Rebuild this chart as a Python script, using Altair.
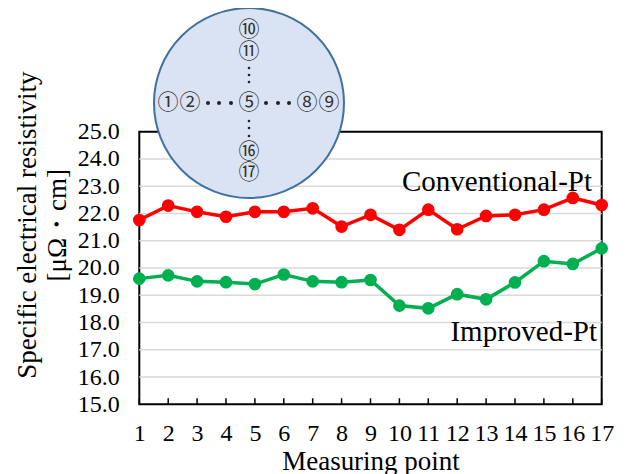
import altair as alt
import pandas as pd

# ---------------- data ----------------
points = list(range(1, 18))
conventional = [21.76, 22.29, 22.06, 21.88, 22.06, 22.06, 22.19, 21.52, 21.95,
                21.40, 22.14, 21.42, 21.91, 21.95, 22.14, 22.57, 22.31]
improved = [19.61, 19.73, 19.51, 19.48, 19.41, 19.76, 19.51, 19.48, 19.56,
            18.62, 18.52, 19.04, 18.85, 19.47, 20.25, 20.15, 20.72]
series_names = ["Conventional-Pt", "Improved-Pt"]
series_colors = ["#ff0000", "#00b050"]
y_ticks = [15.0, 16.0, 17.0, 18.0, 19.0, 20.0, 21.0, 22.0, 23.0, 24.0, 25.0]

# inset wafer map (measuring point layout, offsets in px from wafer centre, up = +)
inset_labels = ["①", "②", "⑤", "⑧", "⑨", "⑩", "⑪", "⑯", "⑰"]
inset_x = [-81, -59, 0, 58, 80, 0, 0, 0, 0]
inset_y = [0, 0, 0, 0, 0, 73, 51, -49, -70]
dots_h = [-41, -30, -18, 17, 29, 40]
dots_v = [35, 28, 21, -18, -25, -33]

SERIF = "Liberation Serif"
W, H = 462.4, 272.6
XMIN, XMAX, YMIN, YMAX = 1, 17, 15, 25
PX_X = W / (XMAX - XMIN)      # px per x unit
PX_Y = H / (YMAX - YMIN)      # px per y unit
WAFER_CX = XMIN + 109.7 / PX_X   # wafer centre in chart units
WAFER_CY = YMAX + 28.7 / PX_Y


def ix(offs):
    return [WAFER_CX + o / PX_X for o in offs]


def iy(offs):
    return [WAFER_CY + o / PX_Y for o in offs]


df = pd.DataFrame({
    "x": points * 2,
    "y": conventional + improved,
    "series": [series_names[0]] * len(points) + [series_names[1]] * len(points),
})

xscale = alt.Scale(domain=[XMIN, XMAX], nice=False, zero=False)
yscale = alt.Scale(domain=[YMIN, YMAX], nice=False, zero=False)

x_axis = alt.Axis(values=points, format="d", title="Measuring point", grid=False,
                  ticks=False, domain=False, labelFont=SERIF, labelFontSize=24,
                  labelColor="black", labelPadding=17, labelFlush=False, labelOverlap=False,
                  titleFont=SERIF, titleFontSize=27, titleFontWeight="normal",
                  titleColor="black", titlePadding=3)
y_axis = alt.Axis(values=y_ticks, format=".1f", grid=False, ticks=False, domain=False,
                  labelFont=SERIF, labelFontSize=24, labelColor="black", labelPadding=20,
                  labelOverlap=False,
                  title=["Specific electrical resistivity", "[μΩ・cm]"],
                  titleFont=SERIF, titleFontSize=27, titleFontWeight="normal",
                  titleColor="black", titleLineHeight=30, titleAngle=270,
                  titleX=-112, titleY=93, titleBaseline="middle", titleAlign="center")

X = alt.X("x:Q", scale=xscale, axis=x_axis)
Y = alt.Y("y:Q", scale=yscale, axis=y_axis)

grid = alt.Chart(pd.DataFrame({"y": y_ticks[1:-1]})).mark_rule(
    color="#d9d9d9", strokeWidth=1.5
).encode(y=Y)

ticks = alt.Chart(pd.DataFrame({"x": points})).mark_rule(
    color="black", strokeWidth=1.5
).encode(x=X, y=alt.value(H), y2=alt.value(H - 6))

lab_conv = alt.Chart(pd.DataFrame({"t": [series_names[0]]})).mark_text(
    font=SERIF, fontSize=29, align="right", baseline="alphabetic", color="black"
).encode(text="t:N", x=alt.value(452.7), y=alt.value(59.8))

lab_impr = alt.Chart(pd.DataFrame({"t": [series_names[1]]})).mark_text(
    font=SERIF, fontSize=29, align="right", baseline="alphabetic", color="black"
).encode(text="t:N", x=alt.value(457.7), y=alt.value(209.3))

lines = alt.Chart(df).mark_line(
    strokeWidth=3.5,
    point=alt.OverlayMarkDef(size=160, filled=True, opacity=1),
).encode(
    x=X, y=Y,
    color=alt.Color("series:N", scale=alt.Scale(domain=series_names, range=series_colors),
                    legend=None),
)

wafer = alt.Chart(pd.DataFrame({"x": ix([0]), "y": iy([0])})).mark_point(
    shape="circle", size=36100, fill="#dae3f3", stroke="#41719c", strokeWidth=2,
    fillOpacity=1, strokeOpacity=1, opacity=1
).encode(x=X, y=Y)

hdots = alt.Chart(pd.DataFrame({"x": ix(dots_h), "y": iy([0] * len(dots_h))})).mark_circle(
    size=16, color="#222222", opacity=1
).encode(x=X, y=Y)

vdots = alt.Chart(pd.DataFrame({"x": ix([0] * len(dots_v)), "y": iy(dots_v)})).mark_circle(
    size=7, color="#222222", opacity=1
).encode(x=X, y=Y)

ilabels = alt.Chart(pd.DataFrame({"x": ix(inset_x), "y": iy(inset_y), "t": inset_labels})).mark_text(
    font="Noto Sans CJK JP", fontSize=21, color="#333333", baseline="middle", align="center"
).encode(x=X, y=Y, text="t:N")

chart = alt.layer(grid, ticks, lab_conv, lab_impr, lines, wafer, hdots, vdots, ilabels).properties(
    width=W, height=H,
    autosize=alt.AutoSizeParams(type="none"),
    padding={"left": 131.3, "top": 123.7, "right": 17, "bottom": 70},
    background="white",
).configure_view(stroke="black", strokeWidth=2)

chart.save("out.html", embed_options={"renderer": "svg", "actions": False})
